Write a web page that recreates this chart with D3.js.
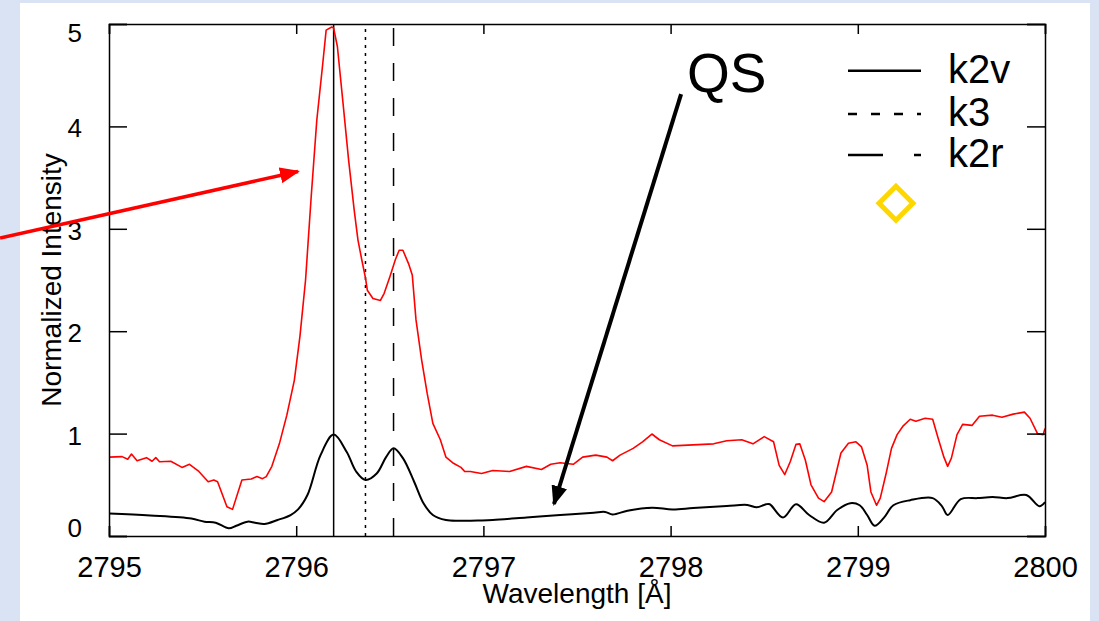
<!DOCTYPE html>
<html>
<head>
<meta charset="utf-8">
<script src="https://cdn.jsdelivr.net/npm/d3@7"></script>
<style>
  html, body { margin: 0; padding: 0; background: #dae3f3; }
  svg { display: block; }
  text { font-family: "Liberation Sans", Arial, Helvetica, sans-serif; fill: #000; }
</style>
</head>
<body>
<svg id="chart" width="1099" height="621"></svg>
<script>
// Mg II k spectra: quiet-Sun average (black) and bright profile (red)
const qsWavelength = [
  2795.00, 2795.22, 2795.44, 2795.51, 2795.57, 2795.64, 2795.68, 2795.74, 2795.78, 2795.83,
  2795.90, 2795.97, 2796.01, 2796.06, 2796.13, 2796.20, 2796.27, 2796.32, 2796.37, 2796.43,
  2796.48, 2796.52, 2796.57, 2796.63, 2796.68, 2796.73, 2796.80, 2796.89, 2796.98, 2797.05,
  2797.23, 2797.41, 2797.59, 2797.65, 2797.69, 2797.77, 2797.90, 2798.01, 2798.12, 2798.30,
  2798.41, 2798.46, 2798.51, 2798.53, 2798.60, 2798.67, 2798.74, 2798.82, 2798.89, 2798.96,
  2799.01, 2799.05, 2799.09, 2799.14, 2799.19, 2799.28, 2799.40, 2799.45, 2799.48, 2799.55,
  2799.64, 2799.72, 2799.80, 2799.90, 2799.97, 2800.00
];
const qsIntensity = [
  0.22, 0.20, 0.17, 0.14, 0.13, 0.075, 0.10, 0.14, 0.13, 0.117,
  0.156, 0.205, 0.26, 0.40, 0.79, 0.99, 0.82, 0.63, 0.547, 0.61,
  0.77, 0.856, 0.76, 0.53, 0.32, 0.205, 0.156, 0.15, 0.152, 0.156,
  0.18, 0.205, 0.228, 0.235, 0.21, 0.247, 0.277, 0.26, 0.273, 0.293,
  0.303, 0.28, 0.31, 0.31, 0.18, 0.31, 0.205, 0.13, 0.254, 0.32,
  0.30, 0.205, 0.10, 0.18, 0.30, 0.35, 0.37, 0.29, 0.205, 0.36,
  0.37, 0.38, 0.37, 0.40, 0.29, 0.33
];

const brightWavelength = [
  2795.00, 2795.07, 2795.10, 2795.12, 2795.15, 2795.20, 2795.23, 2795.25, 2795.27, 2795.33,
  2795.39, 2795.43, 2795.48, 2795.53, 2795.56, 2795.58, 2795.63, 2795.66, 2795.71, 2795.76,
  2795.79, 2795.82, 2795.84, 2795.87, 2795.91, 2795.95, 2795.99, 2796.02, 2796.05, 2796.08,
  2796.11, 2796.14, 2796.16, 2796.19, 2796.20, 2796.22, 2796.25, 2796.28, 2796.31, 2796.33,
  2796.35, 2796.37, 2796.38, 2796.41, 2796.45, 2796.47, 2796.50, 2796.53, 2796.55, 2796.57,
  2796.60, 2796.62, 2796.64, 2796.67, 2796.70, 2796.73, 2796.77, 2796.80, 2796.84, 2796.88,
  2796.90, 2796.93, 2796.99, 2797.05, 2797.14, 2797.23, 2797.31, 2797.36, 2797.41, 2797.48,
  2797.53, 2797.60, 2797.66, 2797.69, 2797.73, 2797.80, 2797.85, 2797.90, 2797.94, 2798.01,
  2798.12, 2798.23, 2798.30, 2798.38, 2798.44, 2798.50, 2798.55, 2798.58, 2798.61, 2798.64,
  2798.67, 2798.69, 2798.72, 2798.75, 2798.79, 2798.82, 2798.86, 2798.91, 2798.95, 2798.99,
  2799.02, 2799.05, 2799.07, 2799.10, 2799.12, 2799.15, 2799.18, 2799.21, 2799.24, 2799.28,
  2799.31, 2799.36, 2799.40, 2799.43, 2799.46, 2799.48, 2799.50, 2799.53, 2799.56, 2799.61,
  2799.65, 2799.72, 2799.77, 2799.83, 2799.89, 2799.92, 2799.96, 2799.99, 2800.00
];
const brightIntensity = [
  0.77, 0.775, 0.75, 0.80, 0.735, 0.765, 0.73, 0.765, 0.725, 0.73,
  0.67, 0.70, 0.63, 0.53, 0.547, 0.53, 0.286, 0.26, 0.547, 0.557,
  0.58, 0.56, 0.58, 0.68, 0.90, 1.18, 1.52, 1.95, 2.50, 3.31,
  4.06, 4.58, 4.94, 4.97, 4.96, 4.78, 4.23, 3.67, 3.18, 2.89,
  2.70, 2.52, 2.40, 2.32, 2.30, 2.37, 2.53, 2.70, 2.79, 2.79,
  2.66, 2.55, 2.11, 1.72, 1.39, 1.10, 0.94, 0.77, 0.71, 0.67,
  0.63, 0.63, 0.61, 0.64, 0.63, 0.68, 0.65, 0.70, 0.716, 0.70,
  0.77, 0.79, 0.77, 0.735, 0.79, 0.856, 0.92, 0.996, 0.94, 0.88,
  0.89, 0.90, 0.93, 0.94, 0.90, 0.97, 0.92, 0.69, 0.60, 0.73,
  0.895, 0.90, 0.74, 0.50, 0.37, 0.335, 0.43, 0.81, 0.905, 0.92,
  0.87, 0.69, 0.43, 0.30, 0.37, 0.60, 0.856, 0.99, 1.07, 1.14,
  1.12, 1.15, 1.14, 0.95, 0.77, 0.68, 0.76, 0.99, 1.09, 1.08,
  1.17, 1.18, 1.16, 1.19, 1.21, 1.15, 1.00, 0.99, 1.05
];

// Line-feature positions (Å)
const featureNames = ["k2v", "k3", "k2r"];
const featureWavelength = [2796.20, 2796.37, 2796.52];
const featureDash = ["none", "3,5", "18,17"];
const legendDash = ["none", "9,14", "35,31"];

// Axis ticks
const xTicks = [2795, 2796, 2797, 2798, 2799, 2800];
const yTicks = [0, 1, 2, 3, 4, 5];

// Annotation anchors in data coordinates
const qsLabel = { text: "QS", x: 2798.088, y: 4.336 };
const qsArrow = { x1: 2798.056, y1: 4.316, x2: 2797.377, y2: 0.3125 };
const brightArrow = { x1: 2794.418, y1: 2.91, x2: 2796.01, y2: 3.56 };
const diamondMarker = { x: 2799.204, y: 3.25 };

const svg = d3.select("#chart");
const W = 1099, H = 621;
const m = { left: 109, right: 1045, top: 24, bottom: 536 };

// white panel
svg.append("rect").attr("x", 20).attr("y", 3).attr("width", 1070).attr("height", H - 3).attr("fill", "#fff");

const x = d3.scaleLinear().domain([2795, 2800]).range([m.left, m.right]);
const y = d3.scaleLinear().domain([0, 5]).range([m.bottom, m.top]);

const defs = svg.append("defs");
function arrowHead(id, color) {
  defs.append("marker")
    .attr("id", id).attr("viewBox", "0 0 20 16")
    .attr("refX", 18).attr("refY", 8)
    .attr("markerUnits", "userSpaceOnUse")
    .attr("markerWidth", 20).attr("markerHeight", 16)
    .attr("orient", "auto")
    .append("path").attr("d", "M0,0 L20,8 L0,16 Z").attr("fill", color);
}
arrowHead("head-red", "#ff0000");
arrowHead("head-black", "#000");

// feature lines
featureWavelength.forEach((wl, i) => {
  svg.append("line")
    .attr("x1", x(wl)).attr("x2", x(wl))
    .attr("y1", y(0)).attr("y2", y(5))
    .attr("stroke", "#000").attr("stroke-width", 1.5)
    .attr("stroke-dasharray", featureDash[i]);
});

// spectra
const brightData = brightWavelength.map((w, i) => [w, brightIntensity[i]]);
const qsData = qsWavelength.map((w, i) => [w, qsIntensity[i]]);

svg.append("path").datum(brightData)
  .attr("fill", "none").attr("stroke", "#ff0000").attr("stroke-width", 1.6)
  .attr("stroke-linejoin", "round")
  .attr("d", d3.line().x(d => x(d[0])).y(d => y(d[1])));

svg.append("path").datum(qsData)
  .attr("fill", "none").attr("stroke", "#000").attr("stroke-width", 2)
  .attr("stroke-linejoin", "round")
  .attr("d", d3.line().curve(d3.curveCatmullRom.alpha(0.5)).x(d => x(d[0])).y(d => y(d[1])));

// axes frame and ticks
const axisBottom = d3.axisBottom(x).tickValues(xTicks).tickSize(-10).tickPadding(20).tickFormat(d3.format("d"));
const axisTop = d3.axisTop(x).tickValues(xTicks).tickSize(-10).tickFormat("");
const axisLeft = d3.axisLeft(y).tickValues(yTicks).tickSize(-18).tickPadding(27).tickFormat(d3.format("d"));
const axisRight = d3.axisRight(y).tickValues(yTicks).tickSize(-18).tickFormat("");

function styleAxis(g) {
  g.select(".domain").attr("stroke", "#000").attr("stroke-width", 1.5);
  g.selectAll(".tick line").attr("stroke", "#000").attr("stroke-width", 1.5);
}

const gb = svg.append("g").attr("transform", `translate(0,${m.bottom})`).call(axisBottom).call(styleAxis);
gb.selectAll("text").attr("font-size", 29).attr("font-family", "Liberation Sans, Arial, sans-serif");
svg.append("g").attr("transform", `translate(0,${m.top})`).call(axisTop).call(styleAxis);
const gl = svg.append("g").attr("transform", `translate(${m.left},0)`).call(axisLeft).call(styleAxis);
gl.selectAll("text").attr("font-size", 26).attr("font-family", "Liberation Sans, Arial, sans-serif")
  .attr("dy", d => d === 5 ? "0.69em" : d === 0 ? "0em" : "0.4em");
svg.append("g").attr("transform", `translate(${m.right},0)`).call(axisRight).call(styleAxis);

// axis titles
svg.append("text").attr("x", (m.left + m.right) / 2).attr("y", 603)
  .attr("text-anchor", "middle").attr("font-size", 28).text("Wavelength [Å]");
svg.append("text")
  .attr("transform", `translate(61,${(m.top + m.bottom) / 2}) rotate(-90)`)
  .attr("text-anchor", "middle").attr("font-size", 28).text("Normalized Intensity");

// legend
const legendX0 = 848, legendX1 = 921, legendText = 948;
const legendRows = [70.7, 114, 155];
featureNames.forEach((name, i) => {
  svg.append("line")
    .attr("x1", legendX0).attr("x2", legendX1)
    .attr("y1", legendRows[i]).attr("y2", legendRows[i])
    .attr("stroke", "#000").attr("stroke-width", 2.5)
    .attr("stroke-dasharray", legendDash[i]);
  svg.append("text").attr("x", legendText).attr("y", legendRows[i] + 12)
    .attr("font-size", 40).text(name);
});

// diamond marker
svg.append("path")
  .attr("transform", `translate(${x(diamondMarker.x)},${y(diamondMarker.y)}) rotate(45)`)
  .attr("d", d3.symbol().type(d3.symbolSquare).size(24 * 24))
  .attr("fill", "none").attr("stroke", "#ffd700").attr("stroke-width", 5);

// annotations
svg.append("text").attr("x", x(qsLabel.x)).attr("y", y(qsLabel.y))
  .attr("font-size", 55).text(qsLabel.text);

svg.append("line")
  .attr("x1", x(qsArrow.x1)).attr("y1", y(qsArrow.y1))
  .attr("x2", x(qsArrow.x2)).attr("y2", y(qsArrow.y2))
  .attr("stroke", "#000").attr("stroke-width", 4)
  .attr("marker-end", "url(#head-black)");

svg.append("line")
  .attr("x1", x(brightArrow.x1)).attr("y1", y(brightArrow.y1))
  .attr("x2", x(brightArrow.x2)).attr("y2", y(brightArrow.y2))
  .attr("stroke", "#ff0000").attr("stroke-width", 3.5)
  .attr("marker-end", "url(#head-red)");
</script>
</body>
</html>
